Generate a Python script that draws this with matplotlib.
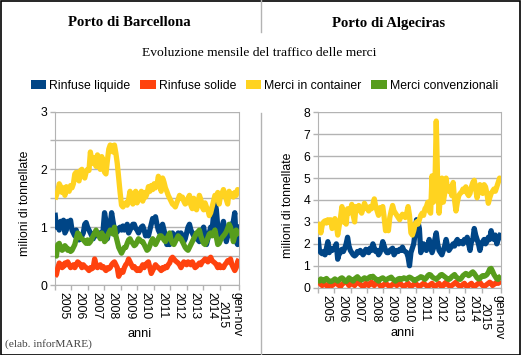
import numpy as np
import matplotlib
matplotlib.use("Agg")
import matplotlib.pyplot as plt
from matplotlib.patches import Patch, Rectangle
from matplotlib.lines import Line2D
from matplotlib.ticker import FuncFormatter

# ---- data: monthly values, gen 2005 - nov 2015 (milioni di tonnellate) ----
YEARS = ["2005", "2006", "2007", "2008", "2009", "2010", "2011",
         "2012", "2013", "2014", "gen-nov\n2015"]

SERIES = ["Rinfuse liquide", "Rinfuse solide", "Merci in container", "Merci convenzionali"]
COLORS = ["#004586", "#ff420e", "#ffd320", "#579d1c"]

# Barcellona
bcn_liquide = [
    1.25, 1.0, 1.05, 0.95, 1.1, 1.05, 1.12, 0.9, 0.95, 1.1, 1.05, 1.12,
    0.95, 0.9, 0.85, 0.95, 0.8, 0.78, 0.8, 0.85, 0.9, 1.05, 1.08, 1.0,
    0.95, 0.9, 0.85, 0.8, 0.9, 0.85, 0.88, 0.9, 0.9, 0.88, 0.95, 1.25,
    1.1, 0.8, 0.95, 1.05, 1.25, 1.1, 0.95, 0.9, 0.92, 0.98, 1.0, 0.95,
    1.02, 0.95, 1.0, 1.05, 0.9, 0.95, 1.0, 1.05, 1.05, 0.98, 0.95, 0.9,
    0.95, 1.0, 1.02, 0.95, 0.85, 0.9, 0.85, 0.95, 1.05, 1.15, 1.12, 1.18,
    1.05, 0.95, 0.9, 1.0, 1.05, 0.95, 0.85, 0.7, 0.72, 0.7, 0.8, 0.9,
    0.85, 0.8, 0.85, 0.9, 0.88, 0.9, 0.85, 0.75, 0.8, 0.9, 1.0, 1.05,
    0.95, 0.9, 0.85, 0.88, 0.8, 0.78, 0.75, 0.85, 0.95, 1.0, 0.85, 0.7,
    0.8, 0.9, 1.0, 0.95, 1.2, 1.45, 1.3, 1.0, 0.8, 0.9, 1.0, 1.1,
    0.95, 0.75, 0.85, 1.0, 1.05, 0.95, 1.1, 1.25, 0.75, 0.7, 1.05,
]
bcn_solide = [
    0.15, 0.18, 0.3, 0.38, 0.35, 0.3, 0.32, 0.38, 0.35, 0.4, 0.35, 0.3,
    0.32, 0.35, 0.3, 0.35, 0.4, 0.38, 0.35, 0.3, 0.35, 0.32, 0.3, 0.28,
    0.25, 0.3, 0.28, 0.3, 0.45, 0.35, 0.3, 0.33, 0.35, 0.3, 0.32, 0.28,
    0.25, 0.3, 0.28, 0.3, 0.35, 0.38, 0.4, 0.35, 0.3, 0.15, 0.2, 0.25,
    0.22, 0.3, 0.35, 0.38, 0.45, 0.4, 0.35, 0.3, 0.32, 0.28, 0.25, 0.28,
    0.25, 0.3, 0.35, 0.3, 0.35, 0.38, 0.4, 0.3, 0.2, 0.25, 0.3, 0.35,
    0.32, 0.3, 0.28, 0.25, 0.3, 0.28, 0.32, 0.3, 0.35, 0.38, 0.45, 0.48,
    0.45, 0.42, 0.4, 0.38, 0.35, 0.3, 0.35, 0.4, 0.38, 0.35, 0.4, 0.38,
    0.35, 0.4, 0.35, 0.3, 0.32, 0.35, 0.38, 0.35, 0.4, 0.42, 0.45, 0.43,
    0.4, 0.45, 0.48, 0.42, 0.4, 0.38, 0.35, 0.3, 0.35, 0.3, 0.32, 0.3,
    0.35, 0.38, 0.42, 0.4, 0.45, 0.35, 0.3, 0.25, 0.3, 0.4, 0.45,
]
bcn_container = [
    1.48, 1.55, 1.62, 1.75, 1.70, 1.60, 1.68, 1.55, 1.70, 1.65, 1.62, 1.72,
    1.68, 1.75, 1.92, 1.95, 1.85, 1.80, 1.98, 2.00, 1.90, 1.85, 1.95, 2.00,
    1.98, 2.30, 2.15, 2.10, 2.20, 2.05, 2.25, 2.10, 2.00, 2.22, 2.15, 1.95,
    1.92, 2.15, 2.35, 2.42, 2.40, 2.30, 2.42, 2.28, 2.10, 1.85, 1.60, 1.38,
    1.35, 1.40, 1.42, 1.38, 1.48, 1.62, 1.45, 1.40, 1.58, 1.62, 1.42, 1.48,
    1.55, 1.62, 1.45, 1.60, 1.52, 1.58, 1.70, 1.62, 1.72, 1.65, 1.75, 1.68,
    1.72, 1.88, 1.80, 1.62, 1.85, 1.78, 1.68, 1.62, 1.55, 1.50, 1.45, 1.40,
    1.38, 1.35, 1.42, 1.48, 1.55, 1.50, 1.52, 1.45, 1.40, 1.42, 1.50, 1.55,
    1.38, 1.32, 1.50, 1.42, 1.30, 1.40, 1.55, 1.48, 1.35, 1.30, 1.42, 1.35,
    1.30, 1.20, 1.25, 1.35, 1.45, 1.55, 1.50, 1.60, 1.40, 1.55, 1.58, 1.65,
    1.55, 1.48, 1.40, 1.62, 1.55, 1.58, 1.52, 1.60, 1.55, 1.65, 1.58,
]
bcn_convenzionali = [
    0.65, 0.5, 0.7, 0.72, 0.65, 0.6, 0.62, 0.68, 0.65, 0.6, 0.62, 0.58,
    0.6, 0.65, 0.7, 0.8, 0.9, 0.88, 0.82, 0.8, 0.78, 0.75, 0.72, 0.78,
    0.72, 0.75, 0.8, 0.85, 0.9, 0.95, 0.88, 0.85, 0.8, 0.9, 0.85, 0.75,
    0.78, 0.85, 0.9, 0.95, 0.92, 0.88, 1.0, 0.85, 0.75, 0.65, 0.6, 0.55,
    0.6, 0.65, 0.65, 0.72, 0.78, 0.8, 0.75, 0.72, 0.68, 0.7, 0.75, 0.8,
    0.78, 0.75, 0.75, 0.7, 0.65, 0.6, 0.62, 0.68, 0.75, 0.8, 0.75, 0.7,
    0.75, 0.8, 0.85, 0.85, 0.82, 0.78, 0.75, 0.8, 0.85, 0.9, 0.78, 0.72,
    0.7, 0.75, 0.8, 0.85, 0.82, 0.8, 0.75, 0.7, 0.65, 0.62, 0.6, 0.65,
    0.7, 0.75, 0.8, 0.85, 0.9, 0.92, 0.95, 0.85, 0.78, 0.72, 0.7, 0.75,
    0.82, 0.88, 0.9, 0.85, 0.9, 0.95, 0.82, 0.7, 0.72, 0.78, 0.82, 0.85,
    0.88, 0.92, 0.98, 1.05, 1.0, 0.9, 0.75, 0.85, 0.95, 0.9, 0.85,
]

# Algeciras
alg_liquide = [
    2.3, 1.7, 1.6, 1.55, 1.65, 1.5, 1.8, 2.1, 1.6, 1.8, 1.7, 1.75,
    1.85, 2.0, 1.3, 1.55, 1.6, 1.75, 1.65, 1.8, 2.0, 2.3, 1.9, 1.7,
    1.6, 1.5, 1.45, 1.5, 1.65, 1.6, 1.7, 1.6, 1.5, 1.6, 1.75, 1.65,
    1.6, 1.8, 1.7, 2.0, 1.8, 1.65, 1.7, 1.5, 1.6, 1.8, 2.1, 1.9,
    1.7, 1.6, 1.6, 1.7, 1.75, 1.8, 1.5, 1.6, 1.7, 1.65, 1.75, 1.7,
    1.85, 1.7, 1.65, 1.6, 1.4, 1.0, 1.6, 1.8, 2.0, 2.5, 3.1, 3.0,
    2.7, 1.6, 1.8, 2.0, 1.9, 1.7, 1.9, 2.2, 1.9, 1.6, 1.8, 2.2,
    2.5, 2.0, 1.7, 1.6, 1.5, 1.7, 1.9, 2.2, 1.9, 1.7, 1.8, 1.9,
    2.0, 1.9, 2.1, 2.2, 2.0, 2.1, 2.1, 2.0, 2.2, 2.1, 2.3, 2.0,
    1.7, 2.1, 2.2, 2.7, 2.4, 2.2, 2.0, 1.7, 2.0, 2.1, 2.2, 2.0,
    2.1, 2.3, 2.2, 2.6, 2.3, 2.2, 2.4, 2.0, 2.2, 2.3, 2.5,
]
alg_solide = [
    0.2, 0.25, 0.15, 0.1, 0.2, 0.15, 0.1, 0.05, 0.15, 0.2, 0.1, 0.15,
    0.2, 0.25, 0.15, 0.1, 0.05, 0.15, 0.2, 0.25, 0.3, 0.2, 0.1, 0.15,
    0.2, 0.15, 0.1, 0.2, 0.3, 0.25, 0.15, 0.1, 0.05, 0.1, 0.2, 0.15,
    0.1, 0.2, 0.25, 0.15, 0.1, 0.2, 0.3, 0.2, 0.1, 0.05, 0.1, 0.15,
    0.2, 0.15, 0.1, 0.05, 0.1, 0.15, 0.2, 0.15, 0.1, 0.2, 0.25, 0.15,
    0.1, 0.05, 0.1, 0.15, 0.2, 0.1, 0.05, 0.1, 0.15, 0.2, 0.15, 0.1,
    0.05, 0.1, 0.15, 0.2, 0.15, 0.1, 0.05, 0.1, 0.15, 0.2, 0.1, 0.05,
    0.1, 0.15, 0.2, 0.1, 0.05, 0.1, 0.2, 0.25, 0.15, 0.1, 0.05, 0.1,
    0.15, 0.2, 0.25, 0.15, 0.1, 0.05, 0.1, 0.15, 0.2, 0.1, 0.05, 0.1,
    0.15, 0.2, 0.1, 0.05, 0.1, 0.15, 0.2, 0.25, 0.15, 0.1, 0.05, 0.1,
    0.15, 0.2, 0.25, 0.2, 0.1, 0.15, 0.2, 0.25, 0.2, 0.25, 0.3,
]
alg_container = [
    2.8, 2.9, 2.5, 2.85, 3.0, 3.05, 2.95, 3.1, 3.0, 3.1, 2.7, 2.75,
    3.15, 2.9, 2.4, 2.8, 3.2, 3.7, 3.0, 3.1, 2.9, 3.6, 3.4, 3.5,
    3.8, 3.3, 3.0, 3.7, 3.6, 3.75, 3.5, 3.4, 3.6, 3.85, 3.7, 3.6,
    3.5, 3.7, 3.6, 3.8, 4.05, 3.7, 3.5, 3.3, 3.65, 3.6, 3.7, 3.2,
    2.6, 2.7, 2.6, 3.2, 3.5, 3.75, 3.5, 3.4, 3.3, 3.2, 3.1, 3.25,
    3.35, 3.3, 3.2, 3.4, 3.7, 3.3, 2.5, 2.4, 2.6, 2.9, 3.0, 2.9,
    3.1, 3.3, 3.4, 3.3, 3.6, 3.7, 3.9, 3.5, 3.4, 5.1, 3.9, 4.4,
    7.6, 4.8, 3.4, 4.2, 5.0, 3.9, 4.3, 5.0, 4.5, 4.4, 4.6, 4.2,
    4.8, 4.0, 3.5, 3.9, 4.2, 4.3, 4.35, 4.5, 4.4, 4.6, 4.3, 4.2,
    4.3, 4.6, 4.8, 4.9, 4.5, 4.1, 4.4, 4.7, 4.5, 4.3, 4.7, 4.6,
    4.3, 3.85, 4.1, 4.3, 4.4, 4.5, 4.4, 4.6, 4.8, 5.0, 4.85,
]
alg_convenzionali = [
    0.35, 0.3, 0.4, 0.35, 0.3, 0.38, 0.42, 0.35, 0.3, 0.28, 0.3, 0.35,
    0.4, 0.35, 0.3, 0.35, 0.42, 0.45, 0.4, 0.3, 0.28, 0.35, 0.45, 0.4,
    0.35, 0.3, 0.4, 0.45, 0.5, 0.42, 0.38, 0.35, 0.4, 0.45, 0.42, 0.4,
    0.45, 0.5, 0.48, 0.52, 0.45, 0.4, 0.35, 0.3, 0.38, 0.42, 0.45, 0.4,
    0.35, 0.38, 0.42, 0.45, 0.48, 0.4, 0.35, 0.3, 0.35, 0.4, 0.42, 0.38,
    0.4, 0.45, 0.42, 0.38, 0.45, 0.48, 0.45, 0.4, 0.35, 0.33, 0.38, 0.42,
    0.45, 0.5, 0.48, 0.42, 0.38, 0.45, 0.55, 0.6, 0.58, 0.5, 0.45, 0.42,
    0.38, 0.45, 0.5, 0.58, 0.6, 0.55, 0.5, 0.45, 0.4, 0.38, 0.42, 0.5,
    0.55, 0.6, 0.5, 0.45, 0.4, 0.38, 0.45, 0.55, 0.6, 0.65, 0.62, 0.55,
    0.6, 0.68, 0.72, 0.65, 0.55, 0.45, 0.4, 0.42, 0.5, 0.55, 0.52, 0.55,
    0.6, 0.7, 0.85, 0.88, 0.75, 0.6, 0.5, 0.4, 0.38, 0.48, 0.55,
]

GRID = "#b3b3b3"
SANS = "Liberation Sans"
SERIF = "Liberation Serif"
W, H = 521, 355


def draw_panel(ax, series, ymax, ystep, label_y):
    x = np.arange(len(series[0]))
    for vals, col in zip(series, COLORS):
        ax.plot(x, vals, color=col, lw=3.8, solid_joinstyle="round",
                solid_capstyle="butt", zorder=3)

    ax.set_xlim(0, len(x) - 1)
    ax.set_ylim(0, ymax)
    ax.set_yticks(np.arange(0, ymax + 0.01, ystep))
    ax.yaxis.set_major_formatter(
        FuncFormatter(lambda v, p: f"{v:g}" if abs(v - round(v)) < 1e-6 else ""))
    ax.grid(axis="y", color=GRID, lw=1)
    ax.set_axisbelow(True)

    # year boundaries (ticks) and centred year labels
    year_w = 11.63
    bounds = list(np.arange(11) * year_w) + [len(x) - 1]
    ax.set_xticks(bounds)
    ax.set_xticklabels([])
    centers = [(a + b) / 2 for a, b in zip(bounds[:-1], bounds[1:])]
    ax.set_xticks(centers, minor=True)
    ax.set_xticklabels(YEARS, minor=True, rotation=-90, fontsize=8.8,
                       family=SANS, multialignment="center")
    ax.tick_params(axis="x", which="major", length=3.5, color=GRID, width=1)
    ax.tick_params(axis="x", which="minor", length=0, pad=5)
    ax.tick_params(axis="y", length=3.6, color=GRID, width=1, pad=2,
                   labelsize=8.8)
    for lab in ax.get_yticklabels():
        lab.set_family(SANS)

    for s in ["left", "right", "bottom"]:
        ax.spines[s].set_color(GRID)
    ax.spines["top"].set_visible(False)

    ax.set_ylabel("milioni di tonnellate", fontsize=8.8, family=SANS)
    ax.yaxis.set_label_coords(-0.133, 0.47)
    ax.set_xlabel("anni", fontsize=9.2, family=SANS)
    ax.xaxis.set_label_coords(0.46, label_y)


fig = plt.figure(figsize=(W / 100, H / 100), dpi=100)

ax1 = fig.add_axes([55 / W, 1 - 285 / H, 184 / W, 173.5 / H])
ax2 = fig.add_axes([318 / W, 1 - 287.7 / H, 183 / W, 175.4 / H])

draw_panel(ax1, [bcn_liquide, bcn_solide, bcn_container, bcn_convenzionali], 3, 0.5, -0.245)
draw_panel(ax2, [alg_liquide, alg_solide, alg_container, alg_convenzionali], 8, 1, -0.226)

# titles
fig.text(129.5 / W, 1 - 23 / H, "Porto di Barcellona", ha="center", va="center",
         family=SERIF, fontweight="bold", fontsize=10.6)
fig.text(389 / W, 1 - 23 / H, "Porto di Algeciras", ha="center", va="center",
         family=SERIF, fontweight="bold", fontsize=10.6)
fig.text(259 / W, 1 - 53 / H, "Evoluzione mensile del traffico delle merci",
         ha="center", va="center", family=SERIF, fontsize=9.7)
fig.text(5 / W, 1 - 344 / H, "(elab. inforMARE)", ha="left", va="center",
         family=SERIF, fontsize=8.2, color="#404040")

# legend
handles = [Patch(facecolor=c, edgecolor="none", label=s) for s, c in zip(SERIES, COLORS)]
fig.legend(handles=handles, loc="center", bbox_to_anchor=(264.5 / W, 1 - 86 / H),
           ncol=4, frameon=False, prop={"family": SANS, "size": 8.8},
           handlelength=1.25, handleheight=0.75, handletextpad=0.25,
           columnspacing=0.8, borderaxespad=0, borderpad=0)

# divider and outer border
fig.add_artist(Line2D([260.5 / W, 260.5 / W], [1, 1 - 32 / H], color=GRID, lw=1))
fig.add_artist(Line2D([260.5 / W, 260.5 / W], [1 - 113 / H, 0], color=GRID, lw=1))
fig.add_artist(Rectangle((0.5 / W, 0.5 / H), 1 - 1.5 / W, 1 - 1.5 / H,
                         fill=False, edgecolor="black", lw=1.2,
                         transform=fig.transFigure))

fig.savefig("out.png", dpi=100)
